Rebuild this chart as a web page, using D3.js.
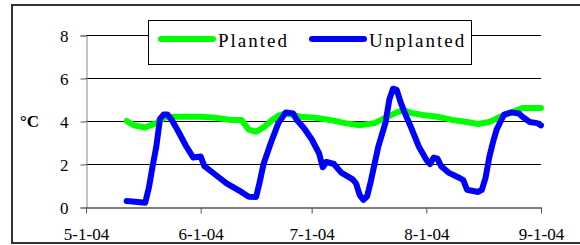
<!DOCTYPE html>
<html>
<head>
<meta charset="utf-8">
<script src="https://cdn.jsdelivr.net/npm/d3@7"></script>
<style>
  body { margin: 0; background: #fff; }
  svg { display: block; }
</style>
</head>
<body>
<div id="chart"></div>
<script>
(function() {
    // data (dates, degrees C)
    var plantedDates = ["2004-05-12", "2004-05-14", "2004-05-17", "2004-05-20", "2004-05-22", "2004-05-25",
        "2004-06-01", "2004-06-05", "2004-06-09", "2004-06-12", "2004-06-14", "2004-06-16", "2004-06-18",
        "2004-06-20", "2004-06-22", "2004-06-24", "2004-06-28", "2004-07-02", "2004-07-06", "2004-07-10",
        "2004-07-14", "2004-07-18", "2004-07-21", "2004-07-24", "2004-07-26", "2004-07-28", "2004-07-31",
        "2004-08-04", "2004-08-08", "2004-08-12", "2004-08-15", "2004-08-18", "2004-08-21", "2004-08-24",
        "2004-08-27", "2004-09-01"];
    var plantedValues = [4.0, 3.8, 3.7, 3.9, 4.15, 4.2,
        4.2, 4.15, 4.05, 4.05, 3.6, 3.5, 3.7,
        4.0, 4.25, 4.35, 4.2, 4.15, 4.05, 3.9,
        3.8, 3.9, 4.15, 4.4, 4.5, 4.37, 4.28,
        4.2, 4.05, 3.95, 3.86, 3.95, 4.2, 4.4,
        4.6, 4.6];

    var unplantedDates = ["2004-05-12", "2004-05-15", "2004-05-17", "2004-05-18", "2004-05-19", "2004-05-20",
        "2004-05-21", "2004-05-22", "2004-05-23", "2004-05-24", "2004-05-26", "2004-05-28", "2004-05-30",
        "2004-06-01", "2004-06-02", "2004-06-05", "2004-06-08", "2004-06-10", "2004-06-12", "2004-06-14",
        "2004-06-16", "2004-06-17", "2004-06-18", "2004-06-20", "2004-06-22", "2004-06-24", "2004-06-26",
        "2004-06-27", "2004-06-29", "2004-07-01", "2004-07-03", "2004-07-04", "2004-07-05", "2004-07-07",
        "2004-07-09", "2004-07-12", "2004-07-13", "2004-07-14", "2004-07-15", "2004-07-16", "2004-07-17",
        "2004-07-18", "2004-07-19", "2004-07-21", "2004-07-22", "2004-07-23", "2004-07-24", "2004-07-25",
        "2004-07-26", "2004-07-28", "2004-07-30", "2004-08-01", "2004-08-02", "2004-08-03", "2004-08-04",
        "2004-08-05", "2004-08-07", "2004-08-10", "2004-08-11", "2004-08-12", "2004-08-15", "2004-08-16",
        "2004-08-17", "2004-08-18", "2004-08-19", "2004-08-20", "2004-08-22", "2004-08-24", "2004-08-26",
        "2004-08-27", "2004-08-29", "2004-08-31", "2004-09-01"];
    var unplantedValues = [0.28, 0.23, 0.2, 0.9, 1.9, 2.8,
        4.1, 4.3, 4.3, 4.1, 3.5, 2.85, 2.3,
        2.35, 1.9, 1.5, 1.1, 0.9, 0.7, 0.48,
        0.47, 1.2, 2.0, 3.0, 3.9, 4.4, 4.35,
        4.05, 3.65, 3.15, 2.5, 1.85, 2.1, 2.0,
        1.6, 1.3, 1.1, 0.55, 0.33, 0.5, 1.2,
        2.0, 2.8, 3.95, 5.0, 5.5, 5.45, 4.9,
        4.45, 3.65, 2.8, 2.2, 2.0, 2.3, 2.25,
        1.9, 1.6, 1.35, 1.25, 0.8, 0.7, 0.8,
        1.35, 2.3, 3.0, 3.6, 4.3, 4.4, 4.35,
        4.2, 3.95, 3.9, 3.8];

    var xTicks = ["2004-05-01", "2004-06-01", "2004-07-01", "2004-08-01", "2004-09-01"];
    var yTicks = [0, 2, 4, 6, 8];
    var seriesNames = ["Planted", "Unplanted"];
    var seriesColors = ["#00ff00", "#0000ff"];

    var font = "Liberation Serif";
    var parse = d3.timeParse("%Y-%m-%d");
    var fmt = d3.timeFormat("%-m-1-%y");

    var width = 580, height = 245;
    var left = 86, right = 541, top = 35, bottom = 207;

    var svg = d3.select("#chart")
        .append("svg")
        .attr("width", width)
        .attr("height", height);

    // outer frame
    svg.append("rect")
        .attr("x", 12).attr("y", 5)
        .attr("width", 580).attr("height", 238)
        .attr("fill", "none")
        .attr("stroke", "#333")
        .attr("stroke-width", 2);

    var x = d3.scaleTime()
        .domain([parse(xTicks[0]), parse(xTicks[xTicks.length - 1])])
        .range([left, right]);

    var y = d3.scaleLinear()
        .domain([0, 8])
        .range([bottom, top]);

    // gridlines
    svg.append("g")
        .selectAll("line")
        .data(yTicks.slice(1))
        .enter().append("line")
        .attr("x1", left).attr("x2", right)
        .attr("y1", d => y(d) + 0.5).attr("y2", d => y(d) + 0.5)
        .attr("stroke", "#000")
        .attr("stroke-width", 1);

    // y axis
    var yAxis = svg.append("g")
        .attr("transform", "translate(" + (left + 0.5) + ",0.5)")
        .call(d3.axisLeft(y).tickValues(yTicks).tickSize(6).tickPadding(12).tickFormat(d3.format("d")))
        .attr("font-family", font)
        .attr("font-size", 17);
    yAxis.select(".domain").attr("stroke", "#888");
    yAxis.selectAll(".tick line").attr("stroke", "#555");
    yAxis.selectAll("text")
        .attr("fill", "#000")
        .attr("dy", "0.36em");

    // x axis
    var xAxis = svg.append("g")
        .attr("transform", "translate(0," + (bottom + 0.5) + ")")
        .call(d3.axisBottom(x).tickValues(xTicks.map(parse)).tickSize(6).tickSizeOuter(0).tickPadding(14).tickFormat(fmt))
        .attr("font-family", font)
        .attr("font-size", 17);
    xAxis.select(".domain").attr("stroke", "#000");
    xAxis.selectAll(".tick line").attr("stroke", "#555");
    xAxis.selectAll("text")
        .attr("fill", "#000");

    // axis title
    svg.append("text")
        .attr("x", 20)
        .attr("y", 127)
        .attr("font-family", font)
        .attr("font-weight", "bold")
        .attr("font-size", 17)
        .attr("fill", "#000")
        .text("\u00b0C");

    var line = d3.line()
        .x(d => x(d.date))
        .y(d => y(d.value));

    var planted = plantedDates.map((d, i) => ({ date: parse(d), value: plantedValues[i] }));
    var unplanted = unplantedDates.map((d, i) => ({ date: parse(d), value: unplantedValues[i] }));

    [planted, unplanted].forEach(function(series, i) {
        svg.append("path")
            .datum(series)
            .attr("d", line)
            .attr("fill", "none")
            .attr("stroke", seriesColors[i])
            .attr("stroke-width", 6)
            .attr("stroke-linejoin", "round")
            .attr("stroke-linecap", "round");
    });

    // legend
    var legend = svg.append("g");
    legend.append("rect")
        .attr("x", 148.5).attr("y", 20.5)
        .attr("width", 323).attr("height", 44)
        .attr("fill", "#fff")
        .attr("stroke", "#000")
        .attr("stroke-width", 1);

    var legendX = [161, 312];
    seriesNames.forEach(function(name, i) {
        legend.append("line")
            .attr("x1", legendX[i]).attr("x2", legendX[i] + 52)
            .attr("y1", 39).attr("y2", 39)
            .attr("stroke", seriesColors[i])
            .attr("stroke-width", 6)
            .attr("stroke-linecap", "round");
        legend.append("text")
            .attr("x", legendX[i] + 57)
            .attr("y", 47)
            .attr("font-family", font)
            .attr("font-size", 19)
            .attr("letter-spacing", 2)
            .attr("fill", "#000")
            .text(name);
    });
})();
</script>
</body>
</html>
